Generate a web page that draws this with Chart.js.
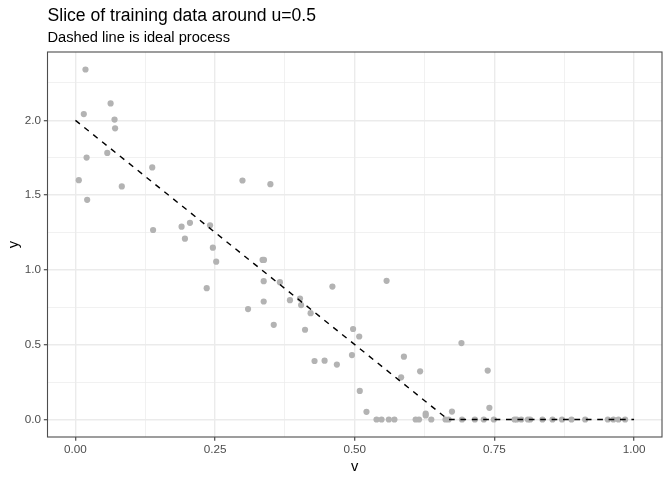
<!DOCTYPE html>
<html>
<head>
<meta charset="utf-8">
<script src="https://cdn.jsdelivr.net/npm/chart.js@4/dist/chart.umd.min.js"></script>
<style>
  body { margin: 0; background: #fff; }
  canvas { display: block; }
</style>
</head>
<body>
<canvas id="slice" width="672" height="480"></canvas>
<script>
// training points (v, y)
const pointV = [0.006, 0.018, 0.015, 0.020, 0.021, 0.057, 0.063, 0.070, 0.071, 0.083,
  0.1375, 0.139, 0.190, 0.196, 0.205, 0.235, 0.241, 0.246, 0.252, 0.299,
  0.349, 0.309, 0.335, 0.3375, 0.337, 0.337, 0.355, 0.366, 0.384, 0.402,
  0.404, 0.411, 0.421, 0.428, 0.446, 0.460, 0.468, 0.495, 0.497, 0.508,
  0.509, 0.521, 0.539, 0.548, 0.557, 0.561, 0.571, 0.583, 0.588, 0.609,
  0.615, 0.617, 0.627, 0.627, 0.637, 0.6625, 0.668, 0.674, 0.691, 0.692,
  0.715, 0.731, 0.738, 0.741, 0.749, 0.786, 0.790, 0.798, 0.810, 0.814,
  0.836, 0.854, 0.871, 0.888, 0.9125, 0.953, 0.963, 0.972, 0.984]
const pointY = [1.600, 2.340, 2.042, 1.751, 1.469, 1.782, 2.113, 2.005, 1.947, 1.558,
  1.685, 1.267, 1.289, 1.209, 1.315, 0.878, 1.298, 1.149, 1.055, 1.598,
  1.573, 0.738, 1.067, 1.067, 0.925, 0.789, 0.633, 0.918, 0.798, 0.809,
  0.765, 0.600, 0.711, 0.391, 0.393, 0.889, 0.367, 0.431, 0.605, 0.555,
  0.191, 0.051, 0, 0, 0.927, 0, 0, 0.282, 0.420, 0,
  0, 0.322, 0.040, 0.027, 0, 0, 0, 0.053, 0.511, 0,
  0, 0, 0.327, 0.078, 0, 0, 0, 0, 0, 0,
  0, 0, 0, 0, 0, 0, 0, 0, 0]

// ideal process (dashed)
const idealV = [0, 0.667, 1]
const idealY = [2, 0, 0]

// axis ticks
const xTicks = [0, 0.25, 0.5, 0.75, 1]
const xTickLabels = ['0.00', '0.25', '0.50', '0.75', '1.00']
const xMinor = [0.125, 0.375, 0.625, 0.875]
const yTicks = [0, 0.5, 1, 1.5, 2]
const yTickLabels = ['0.0', '0.5', '1.0', '1.5', '2.0']
const yMinor = [0.25, 0.75, 1.25, 1.75, 2.25]

const FONT = "'Liberation Sans', Arial, Helvetica, sans-serif"
const GRID = '#EBEBEB'
const DARK = '#4D4D4D'

function gridFor(major) {
    return {
        color: GRID,
        lineWidth: ctx => (ctx.tick && major.includes(ctx.tick.value)) ? 1.42 : 0.71,
        drawTicks: true,
        tickLength: 3.67,
        tickWidth: 1.2,
        tickColor: ctx => (ctx.tick && major.includes(ctx.tick.value)) ? DARK : 'rgba(0,0,0,0)'
    }
}

// title, subtitle and full panel border like ggplot theme_bw
const decorations = {
    id: 'decorations',
    afterDraw(chart) {
        const { ctx, chartArea: a } = chart
        ctx.save()
        ctx.strokeStyle = DARK
        ctx.lineWidth = 1.1
        ctx.strokeRect(a.left, a.top, a.right - a.left, a.bottom - a.top)
        ctx.fillStyle = '#000'
        ctx.textAlign = 'left'
        ctx.textBaseline = 'alphabetic'
        ctx.font = `17.6px ${FONT}`
        ctx.fillText('Slice of training data around u=0.5', a.left, 21)
        ctx.font = `14.67px ${FONT}`
        ctx.fillText('Dashed line is ideal process', a.left, 42)
        ctx.restore()
    }
}

const ctx = document.getElementById('slice').getContext('2d')
new Chart(ctx, {
    type: 'scatter',
    data: {
        datasets: [
            {
                type: 'line',
                label: 'ideal',
                data: idealV.map((v, i) => ({ x: v, y: idealY[i] })),
                borderColor: '#000',
                borderWidth: 1.42,
                borderDash: [5.7, 5.7],
                pointRadius: 0,
                fill: false,
                tension: 0,
                order: 0
            },
            {
                label: 'training',
                data: pointV.map((v, i) => ({ x: v, y: pointY[i] })),
                backgroundColor: '#B3B3B3',
                borderWidth: 0,
                pointRadius: 3.1,
                pointHoverRadius: 3.1,
                order: 1
            }
        ]
    },
    options: {
        responsive: false,
        animation: false,
        devicePixelRatio: 1,
        layout: { padding: { top: 52, right: 10, left: 0, bottom: 0 } },
        plugins: { legend: { display: false }, tooltip: { enabled: false } },
        scales: {
            x: {
                type: 'linear',
                min: -0.05,
                max: 1.05,
                afterBuildTicks: s => { s.ticks = [...xTicks, ...xMinor].sort((a, b) => a - b).map(v => ({ value: v })) },
                afterFit: s => { s.height = 43 },
                grid: gridFor(xTicks),
                border: { display: false },
                ticks: {
                    autoSkip: false,
                    maxRotation: 0,
                    padding: 2.5,
                    color: '#4D4D4D',
                    font: { family: FONT, size: 11.7 },
                    callback: v => { const i = xTicks.indexOf(v); return i >= 0 ? xTickLabels[i] : '' }
                },
                title: { display: true, text: 'v', color: '#000', font: { family: FONT, size: 14.67 }, padding: { top: 0, bottom: 4 } }
            },
            y: {
                type: 'linear',
                min: -0.117,
                max: 2.457,
                afterBuildTicks: s => { s.ticks = [...yTicks, ...yMinor].sort((a, b) => a - b).map(v => ({ value: v })) },
                afterFit: s => { s.width = 47.5 },
                grid: gridFor(yTicks),
                border: { display: false },
                ticks: {
                    autoSkip: false,
                    padding: 2.9,
                    color: '#4D4D4D',
                    font: { family: FONT, size: 11.7 },
                    callback: v => { const i = yTicks.indexOf(v); return i >= 0 ? yTickLabels[i] : '' }
                },
                title: { display: true, text: 'y', color: '#000', font: { family: FONT, size: 14.67 }, padding: { top: 5, bottom: 0 } }
            }
        }
    },
    plugins: [decorations]
})
</script>
</body>
</html>
